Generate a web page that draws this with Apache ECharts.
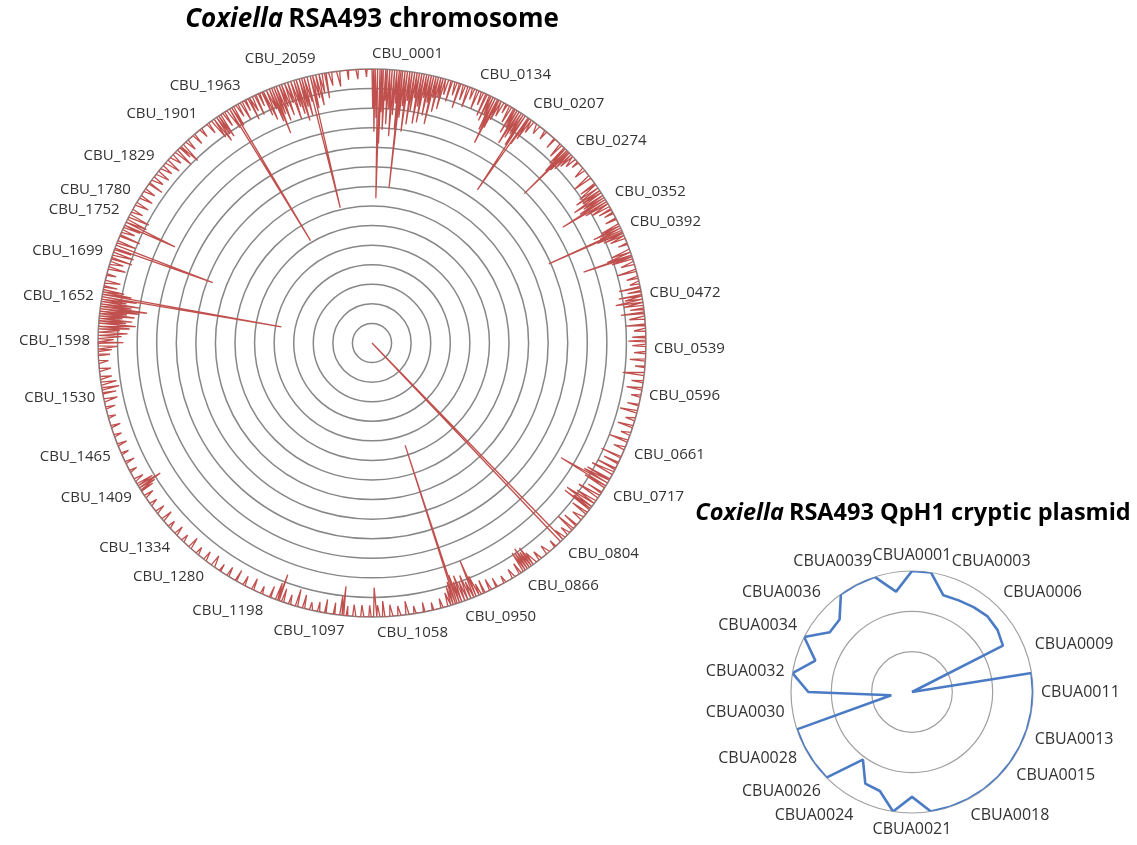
<!DOCTYPE html>
<html><head><meta charset="utf-8">
<script src="https://cdn.jsdelivr.net/npm/echarts@6/dist/echarts.min.js"></script>
<style>html,body{margin:0;padding:0;background:#fff}#c{width:1137px;height:845px}</style>
</head><body><div id="c"></div>
<script>
// ---------- Chromosome (CBU genes) ----------
const chromGeneCount = 2126;
const chromMax = 14;
const chromBaseline = 14; // the line sits on the outer ring except where it dips
const chromLabels = ['CBU_0001','CBU_0134','CBU_0207','CBU_0274','CBU_0352','CBU_0392','CBU_0472','CBU_0539','CBU_0596','CBU_0661','CBU_0717','CBU_0804','CBU_0866','CBU_0950','CBU_1058','CBU_1097','CBU_1198','CBU_1280','CBU_1334','CBU_1409','CBU_1465','CBU_1530','CBU_1598','CBU_1652','CBU_1699','CBU_1752','CBU_1780','CBU_1829','CBU_1901','CBU_1963','CBU_2059'];
// [gene index, value] for every inward spike
const chromDips = [
[1,12.0],[3,10.8],[6,11.5],[9,7.4],[11,10.2],[13,11.8],[16,10.9],[18,12.4],[21,11.2],[24,12.0],[27,10.6],[30,11.7],[33,12.3],[35,11.0],[37,8.0],[40,11.6],[43,12.2],[46,10.9],[49,12.5],[52,11.3],[55,12.0],[58,12.7],[61,11.4],[64,12.3],[67,11.5],[70,12.8],[73,11.9],[76,12.6],[79,11.5],[82,12.9],[85,12.2],[88,13.0],[91,12.4],[95,13.2],
[100,12.9],[106,13.3],[111,12.7],[117,13.2],[123,12.9],[129,13.4],[135,13.0],[141,13.3],[146,12.8],
[151,12.6],[154,13.0],[157,12.2],[160,11.5],[162,12.4],[165,12.9],[169,13.2],[174,13.5],[180,13.1],[185,12.6],[188,13.0],[191,12.1],[194,12.5],[197,12.8],[200,12.2],[204,9.5],[206,12.4],[209,12.8],[213,13.3],
[222,13.5],[233,13.5],[247,13.4],[258,13.2],
[264,12.9],[267,12.5],[269,10.9],[271,12.7],[274,12.9],[277,13.2],[282,13.4],[288,13.6],
[300,13.4],[312,13.0],[322,13.1],[327,12.9],[331,12.6],[334,12.9],[338,12.3],[341,12.8],[344,12.5],[347,11.4],[350,12.7],[354,13.0],[359,13.3],[364,13.5],
[372,13.4],[381,13.0],[384,12.5],[387,12.8],[389,9.9],[391,12.6],[394,12.9],[398,13.2],[406,13.5],[416,13.0],[420,12.7],[422,11.4],[425,12.9],
[432,13.3],[441,13.0],[450,13.4],[457,13.5],[462,12.9],[467,13.3],[472,12.8],[476,13.1],[480,12.6],[484,13.0],[489,13.3],[494,12.8],[501,13.2],[509,13.0],[516,13.4],[524,13.3],[529,13.1],
[535,13.3],[544,13.4],[553,13.2],[561,13.5],[571,12.9],[580,13.4],[589,13.2],[598,13.5],[609,13.4],[618,13.1],[628,13.5],[637,13.2],[647,13.5],[656,13.0],[666,13.4],[677,12.9],
[685,13.2],[693,13.0],[700,12.8],[708,12.7],[712,12.6],[716,11.3],[719,12.8],[727,13.2],[734,12.8],[742,12.9],[747,12.4],[750,12.9],[752,12.4],[759,13.1],[768,13.4],[778,13.2],[785,13.0],[793,13.5],[801,13.4],[805,0.0],
[815,13.6],[828,13.5],[840,13.5],[849,13.3],[852,12.9],[855,13.1],[858,12.8],[861,13.0],[864,12.9],[870,13.4],[880,13.5],
[892,13.6],[903,13.5],[912,13.4],[920,13.3],[926,13.4],[930,12.9],[933,12.0],[937,13.1],[941,12.7],[945,13.0],[949,12.6],[952,12.9],[955,12.5],[957,5.5],[960,12.8],[963,13.0],[967,13.3],[976,13.5],[987,13.6],[998,13.5],
[1010,13.6],[1020,13.3],[1030,13.5],[1040,13.4],[1049,13.2],[1056,13.4],[1060,12.5],[1066,13.4],[1076,13.4],[1086,13.4],[1094,13.5],[1099,12.5],[1102,13.0],[1110,13.4],[1121,13.3],[1130,13.5],[1140,13.6],[1149,13.3],[1158,13.1],[1167,13.5],[1176,13.3],[1181,12.6],[1184,13.1],
[1192,13.4],[1204,13.6],[1216,13.4],[1228,13.5],[1239,13.4],[1251,13.5],[1262,13.6],[1274,13.4],[1286,13.5],[1298,13.6],[1310,13.4],[1322,13.6],[1334,13.5],[1346,13.6],[1358,13.4],[1370,13.5],[1382,13.6],[1394,13.5],[1402,13.3],[1405,13.1],[1408,12.7],[1411,13.1],[1418,13.5],
[1430,13.6],[1442,13.5],[1454,13.6],[1466,13.5],[1478,13.6],[1490,13.5],[1502,13.6],[1514,13.5],[1524,13.3],[1532,13.3],[1538,13.1],[1545,13.2],[1552,13.4],[1562,13.4],[1572,13.5],[1580,13.4],
[1586,13.3],[1590,13.0],[1595,12.7],[1599,13.2],[1603,12.8],[1607,12.5],[1611,12.9],[1614,12.4],[1618,12.1],[1621,12.6],[1624,12.3],[1627,12.8],[1630,12.2],[1633,12.6],[1636,12.0],[1639,11.6],[1642,12.4],[1645,12.0],[1648,12.7],[1651,12.2],[1654,4.7],[1657,12.5],[1660,12.9],[1665,13.3],[1672,13.2],[1680,13.5],
[1689,13.1],[1696,13.3],[1701,12.9],[1708,12.9],[1713,13.1],[1717,8.7],[1723,13.0],[1731,12.9],[1738,13.3],[1744,13.1],[1748,11.2],[1752,12.9],[1759,12.9],[1766,13.4],
[1776,13.3],[1786,13.3],[1796,13.4],[1805,13.2],[1814,13.4],[1823,13.3],[1832,13.4],[1841,13.2],[1850,13.4],[1858,13.0],[1864,13.3],[1868,12.9],[1876,13.4],[1887,13.4],[1898,13.5],[1909,13.4],[1917,12.9],[1921,12.6],[1924,12.9],[1927,12.7],[1933,13.2],[1940,12.9],[1943,6.1],[1946,12.9],
[1952,13.3],[1958,13.0],[1963,13.4],[1968,12.8],[1972,13.2],[1977,12.9],[1982,13.3],[1987,12.7],[1991,12.4],[1995,12.9],[1998,12.2],[2001,11.5],[2004,12.5],[2008,12.1],[2011,12.8],[2015,12.3],[2019,12.9],[2023,12.0],[2027,12.6],[2030,12.2],[2034,11.8],[2037,12.5],[2040,12.0],[2044,12.7],[2048,7.1],[2051,12.3],[2055,12.8],[2059,12.4],[2063,13.0],[2068,12.7],[2075,13.3],[2085,13.2],[2096,13.5],[2108,13.5],[2119,13.6]
];
// labels that Excel drew on the side of their spoke instead of centred on it
const chromLabelSide = {'CBU_0001':'L','CBU_1058':'L','CBU_1097':'R','CBU_2059':'R'};

// ---------- Plasmid (CBUA genes) ----------
const plasmidCategories = ['CBUA0001','CBUA0002','CBUA0003','CBUA0004','CBUA0005','CBUA0006','CBUA0007','CBUA0008','CBUA0009','CBUA0010','CBUA0011','CBUA0012','CBUA0013','CBUA0014','CBUA0015','CBUA0016','CBUA0017','CBUA0018','CBUA0019','CBUA0020','CBUA0021','CBUA0022','CBUA0023','CBUA0024','CBUA0025','CBUA0026','CBUA0027','CBUA0028','CBUA0029','CBUA0030','CBUA0031','CBUA0032','CBUA0033','CBUA0034','CBUA0035','CBUA0036','CBUA0037','CBUA0038','CBUA0039','CBUA0040'];
const plasmidValues = [3,3,2.52,2.55,2.6,2.65,2.62,2.53,0,3, 3,3,3,3,3,3,3,3,3,3, 2.6,3,2.58,2.55,2.07,3,3,3,3,0.52, 2.57,3,2.52,3,2.52,2.54,3,3,3,2.52];
const plasmidLabels = ['CBUA0001','CBUA0003','CBUA0006','CBUA0009','CBUA0011','CBUA0013','CBUA0015','CBUA0018','CBUA0021','CBUA0024','CBUA0026','CBUA0028','CBUA0030','CBUA0032','CBUA0034','CBUA0036','CBUA0039'];
const plasmidMax = 3;

// ---------- build ----------
const chromCategories = Array.from({length: chromGeneCount}, (_, i) => 'CBU_' + String(i + 1).padStart(4, '0'));
const chromValues = new Array(chromGeneCount).fill(chromBaseline);
chromDips.forEach(([i, v]) => { chromValues[i] = v; });
const chromData = chromValues.map((v, i) => [v, i]);
chromData.push([chromValues[0], chromGeneCount]);
const plasmidData = plasmidValues.map((v, i) => [v, i]);
plasmidData.push([plasmidValues[0], plasmidCategories.length]);

const chromLabelSet = new Set(chromLabels);
const plasmidLabelSet = new Set(plasmidLabels);

const FONT = '"Open Sans", "Liberation Sans", sans-serif';
const LBL = 15;
const mctx = document.createElement('canvas').getContext('2d');
mctx.font = LBL + 'px "Open Sans"';
const lblW = Math.ceil(mctx.measureText('CBU_0000').width);

function chromLabel(v) {
  const name = chromCategories[v];
  if (!name || !chromLabelSet.has(name)) return '';
  const side = chromLabelSide[name];
  if (side === 'L') return '{l|' + name + '}';
  if (side === 'R') return '{r|' + name + '}';
  return name;
}
function plasmidLabel(v) {
  const name = plasmidCategories[v];
  return (name && plasmidLabelSet.has(name)) ? name : '';
}

const chart = echarts.init(document.getElementById('c'), null, {renderer: 'canvas'});
chart.setOption({
  animation: false,
  backgroundColor: '#fff',
  title: [
    {text: '{i|Coxiella} {b|RSA493 chromosome}', left: 367, top: 2, textAlign: 'center',
     textStyle: {rich: {i: {fontFamily: FONT, fontSize: 26, fontStyle: 'italic', fontWeight: 'bold', color: '#000'},
                        b: {fontFamily: FONT, fontSize: 26, fontWeight: 'bold', color: '#000'}}}},
    {text: '{i|Coxiella} {b|RSA493 QpH1 cryptic plasmid}', left: 908, top: 496, textAlign: 'center',
     textStyle: {rich: {i: {fontFamily: FONT, fontSize: 23.5, fontStyle: 'italic', fontWeight: 'bold', color: '#000'},
                        b: {fontFamily: FONT, fontSize: 23.5, fontWeight: 'bold', color: '#000'}}}}
  ],
  polar: [
    {center: [372, 343], radius: 274},
    {center: [912, 692], radius: 121}
  ],
  angleAxis: [
    {polarIndex: 0, type: 'value', min: 0, max: chromGeneCount, interval: 1, startAngle: 90, clockwise: true,
     axisLine: {show: false}, axisTick: {show: false}, splitLine: {show: false}, minorTick: {show: false},
     axisLabel: {
       margin: 8, fontFamily: FONT, fontSize: LBL, color: '#333',
       formatter: chromLabel,
       rich: {
         l: {fontFamily: FONT, fontSize: LBL, color: '#333', padding: [0, 0, 0, lblW]},
         r: {fontFamily: FONT, fontSize: LBL, color: '#333', padding: [0, lblW, 0, 0]}
       }
     }},
    {polarIndex: 1, type: 'value', min: 0, max: plasmidCategories.length, interval: 1, startAngle: 90, clockwise: true,
     axisLine: {show: false}, axisTick: {show: false}, splitLine: {show: false},
     axisLabel: {margin: 8, fontFamily: FONT, fontSize: 16, color: '#333', formatter: plasmidLabel}}
  ],
  radiusAxis: [
    {polarIndex: 0, min: 0, max: chromMax, interval: 1,
     axisLine: {show: false}, axisTick: {show: false}, axisLabel: {show: false},
     splitLine: {show: true, lineStyle: {color: '#878787', width: 1.5}}},
    {polarIndex: 1, min: 0, max: plasmidMax, interval: 1,
     axisLine: {show: false}, axisTick: {show: false}, axisLabel: {show: false},
     splitLine: {show: true, lineStyle: {color: '#a0a0a0', width: 1.2}}}
  ],
  series: [
    {type: 'line', coordinateSystem: 'polar', polarIndex: 0, data: chromData, symbol: 'none', silent: true, clip: false,
     lineStyle: {color: '#C0504D', width: 1.3}},
    {type: 'line', coordinateSystem: 'polar', polarIndex: 1, data: plasmidData, symbol: 'none', silent: true, clip: false,
     lineStyle: {color: '#4A7BC4', width: 2.6}}
  ]
});
</script></body></html>
